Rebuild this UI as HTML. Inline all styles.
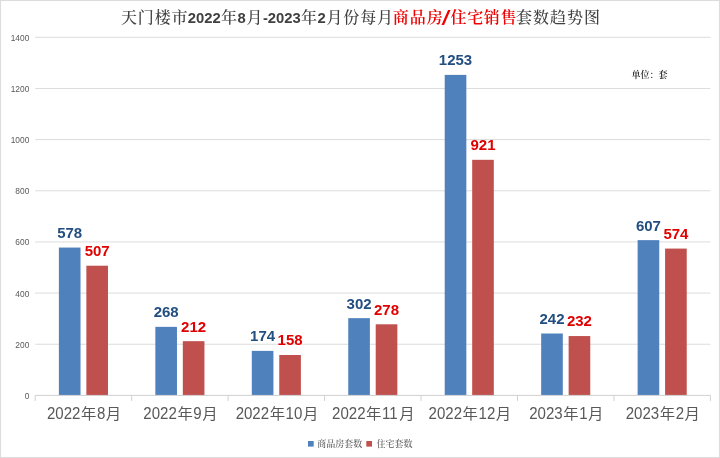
<!DOCTYPE html>
<html lang="zh"><head><meta charset="utf-8"><title>天门楼市商品房/住宅销售套数趋势图</title>
<style>
html,body{margin:0;padding:0;background:#fff;}
body{width:720px;height:458px;overflow:hidden;}
svg{display:block;}
.c{font-family:"Liberation Serif","Noto Serif CJK SC",serif;font-size:16px;fill:#404040;font-weight:500;}
.d{font-family:"Liberation Sans",sans-serif;font-weight:bold;font-size:14.8px;fill:#404040;}
.r{font-family:"Liberation Serif","Noto Serif CJK SC",serif;font-size:16px;fill:#f00000;font-weight:600;}
.sl{font-family:"Liberation Sans",sans-serif;font-size:21px;fill:#f00000;font-weight:normal;}
.yl{font-family:"Liberation Sans",sans-serif;font-size:8.9px;fill:#595959;text-anchor:end;}
.xd{font-family:"Liberation Sans",sans-serif;font-size:16.5px;fill:#595959;}
.xc{font-family:"Liberation Sans","Noto Sans CJK SC",sans-serif;font-size:14.8px;fill:#595959;}
.la{font-family:"Liberation Sans",sans-serif;font-weight:bold;font-size:15px;fill:#234e80;text-anchor:middle;}
.lb{font-family:"Liberation Sans",sans-serif;font-weight:bold;font-size:15px;fill:#e00000;text-anchor:middle;}
.lg{font-family:"Liberation Serif","Noto Serif CJK SC",serif;font-size:9px;fill:#595959;font-weight:500;}
.u{font-family:"Liberation Serif","Noto Serif CJK SC",serif;font-size:9px;fill:#1a1a1a;font-weight:600;}
</style></head><body>
<svg width="720" height="458" viewBox="0 0 720 458">
<rect x="0" y="0" width="720" height="458" fill="#ffffff"/>
<rect x="0.5" y="0.5" width="719" height="457" fill="none" stroke="#dcdcdc" stroke-width="1.1"/>
<line x1="35.2" x2="710.4" y1="344.24" y2="344.24" stroke="#dcdcdc" stroke-width="1"/>
<line x1="35.2" x2="710.4" y1="293.09" y2="293.09" stroke="#dcdcdc" stroke-width="1"/>
<line x1="35.2" x2="710.4" y1="241.93" y2="241.93" stroke="#dcdcdc" stroke-width="1"/>
<line x1="35.2" x2="710.4" y1="190.77" y2="190.77" stroke="#dcdcdc" stroke-width="1"/>
<line x1="35.2" x2="710.4" y1="139.61" y2="139.61" stroke="#dcdcdc" stroke-width="1"/>
<line x1="35.2" x2="710.4" y1="88.46" y2="88.46" stroke="#dcdcdc" stroke-width="1"/>
<line x1="35.2" x2="710.4" y1="37.30" y2="37.30" stroke="#dcdcdc" stroke-width="1"/>
<rect x="58.88" y="247.56" width="21.63" height="147.84" fill="#4f81bd"/>
<rect x="86.35" y="265.72" width="21.63" height="129.68" fill="#c0504d"/>
<rect x="155.34" y="326.85" width="21.63" height="68.55" fill="#4f81bd"/>
<rect x="182.81" y="341.17" width="21.63" height="54.23" fill="#c0504d"/>
<rect x="251.80" y="350.89" width="21.63" height="44.51" fill="#4f81bd"/>
<rect x="279.26" y="354.99" width="21.63" height="40.41" fill="#c0504d"/>
<rect x="348.25" y="318.15" width="21.63" height="77.25" fill="#4f81bd"/>
<rect x="375.72" y="324.29" width="21.63" height="71.11" fill="#c0504d"/>
<rect x="444.71" y="74.90" width="21.63" height="320.50" fill="#4f81bd"/>
<rect x="472.18" y="159.82" width="21.63" height="235.58" fill="#c0504d"/>
<rect x="541.17" y="333.50" width="21.63" height="61.90" fill="#4f81bd"/>
<rect x="568.63" y="336.06" width="21.63" height="59.34" fill="#c0504d"/>
<rect x="637.62" y="240.14" width="21.63" height="155.26" fill="#4f81bd"/>
<rect x="665.09" y="248.58" width="21.63" height="146.82" fill="#c0504d"/>
<line x1="35.2" x2="710.4" y1="395.40" y2="395.40" stroke="#d0d0d0" stroke-width="1"/>
<line x1="35.20" x2="35.20" y1="395.40" y2="400.90" stroke="#d0d0d0" stroke-width="1"/>
<line x1="131.66" x2="131.66" y1="395.40" y2="400.90" stroke="#d0d0d0" stroke-width="1"/>
<line x1="228.11" x2="228.11" y1="395.40" y2="400.90" stroke="#d0d0d0" stroke-width="1"/>
<line x1="324.57" x2="324.57" y1="395.40" y2="400.90" stroke="#d0d0d0" stroke-width="1"/>
<line x1="421.03" x2="421.03" y1="395.40" y2="400.90" stroke="#d0d0d0" stroke-width="1"/>
<line x1="517.49" x2="517.49" y1="395.40" y2="400.90" stroke="#d0d0d0" stroke-width="1"/>
<line x1="613.94" x2="613.94" y1="395.40" y2="400.90" stroke="#d0d0d0" stroke-width="1"/>
<line x1="710.40" x2="710.40" y1="395.40" y2="400.90" stroke="#d0d0d0" stroke-width="1"/>
<text class="yl" transform="translate(29.3,398.85) scale(0.94,1)">0</text>
<text class="yl" transform="translate(29.3,347.69) scale(0.94,1)">200</text>
<text class="yl" transform="translate(29.3,296.54) scale(0.94,1)">400</text>
<text class="yl" transform="translate(29.3,245.38) scale(0.94,1)">600</text>
<text class="yl" transform="translate(29.3,194.22) scale(0.94,1)">800</text>
<text class="yl" transform="translate(29.3,143.06) scale(0.94,1)">1000</text>
<text class="yl" transform="translate(29.3,91.91) scale(0.94,1)">1200</text>
<text class="yl" transform="translate(29.3,40.75) scale(0.94,1)">1400</text>
<g>
<text class="xd" transform="translate(46.90,418.8) scale(0.9120,1)">2022</text>
<text class="xc" transform="translate(80.94,418.8) scale(1.04,1)">年</text>
<text class="xd" transform="translate(96.88,418.8) scale(0.9120,1)">8</text>
<text class="xc" transform="translate(105.81,418.8) scale(1.04,1)">月</text>
</g>
<g>
<text class="xd" transform="translate(143.36,418.8) scale(0.9120,1)">2022</text>
<text class="xc" transform="translate(177.39,418.8) scale(1.04,1)">年</text>
<text class="xd" transform="translate(193.34,418.8) scale(0.9120,1)">9</text>
<text class="xc" transform="translate(202.26,418.8) scale(1.04,1)">月</text>
</g>
<g>
<text class="xd" transform="translate(235.63,418.8) scale(0.9120,1)">2022</text>
<text class="xc" transform="translate(269.67,418.8) scale(1.04,1)">年</text>
<text class="xd" transform="translate(285.61,418.8) scale(0.9120,1)">10</text>
<text class="xc" transform="translate(302.91,418.8) scale(1.04,1)">月</text>
</g>
<g>
<text class="xd" transform="translate(332.09,418.8) scale(0.9120,1)">2022</text>
<text class="xc" transform="translate(366.12,418.8) scale(1.04,1)">年</text>
<text class="xd" transform="translate(382.07,418.8) scale(0.9120,1)">11</text>
<text class="xc" transform="translate(399.36,418.8) scale(1.04,1)">月</text>
</g>
<g>
<text class="xd" transform="translate(428.55,418.8) scale(0.9120,1)">2022</text>
<text class="xc" transform="translate(462.58,418.8) scale(1.04,1)">年</text>
<text class="xd" transform="translate(478.53,418.8) scale(0.9120,1)">12</text>
<text class="xc" transform="translate(495.82,418.8) scale(1.04,1)">月</text>
</g>
<g>
<text class="xd" transform="translate(529.19,418.8) scale(0.9120,1)">2023</text>
<text class="xc" transform="translate(563.22,418.8) scale(1.04,1)">年</text>
<text class="xd" transform="translate(579.17,418.8) scale(0.9120,1)">1</text>
<text class="xc" transform="translate(588.09,418.8) scale(1.04,1)">月</text>
</g>
<g>
<text class="xd" transform="translate(625.65,418.8) scale(0.9120,1)">2023</text>
<text class="xc" transform="translate(659.68,418.8) scale(1.04,1)">年</text>
<text class="xd" transform="translate(675.63,418.8) scale(0.9120,1)">2</text>
<text class="xc" transform="translate(684.55,418.8) scale(1.04,1)">月</text>
</g>
<text class="la" x="69.70" y="237.96">578</text>
<text class="lb" x="97.16" y="256.12">507</text>
<text class="la" x="166.15" y="317.25">268</text>
<text class="lb" x="193.62" y="331.57">212</text>
<text class="la" x="262.61" y="341.29">174</text>
<text class="lb" x="290.08" y="345.39">158</text>
<text class="la" x="359.07" y="308.55">302</text>
<text class="lb" x="386.53" y="314.69">278</text>
<text class="la" x="455.52" y="65.30">1253</text>
<text class="lb" x="482.99" y="150.22">921</text>
<text class="la" x="551.98" y="323.90">242</text>
<text class="lb" x="579.45" y="326.46">232</text>
<text class="la" x="648.44" y="230.54">607</text>
<text class="lb" x="675.90" y="238.98">574</text>
<g id="title">
<text class="c" x="121.0" y="22.9" style="letter-spacing:0.85px">天门楼市</text>
<text class="d" x="187.8" y="22.9">2022</text>
<text class="c" x="220.9" y="22.9">年</text>
<text class="d" x="237.4" y="22.9">8</text>
<text class="c" x="246.5" y="22.9">月</text>
<text class="d" x="262.9" y="22.9">-</text>
<text class="d" x="267.8" y="22.9">2023</text>
<text class="c" x="300.9" y="22.9">年</text>
<text class="d" x="317.4" y="22.9">2</text>
<text class="c" x="326.5" y="22.9" style="letter-spacing:0.87px">月份每月</text>
<text class="r" x="392.75" y="22.9" style="letter-spacing:1.0px">商品房</text>
<text class="r" x="450.6" y="22.9" style="letter-spacing:0.6px">住宅销售</text>
<text class="c" x="515.9" y="22.9" style="letter-spacing:1.0px">套数趋势图</text>
<text class="sl" transform="translate(441.6,24.9) scale(1.55,1)" x="0" y="0">/</text>
</g>
<text class="u" x="631.5" y="78">单位：套</text>
<rect x="308" y="441" width="5.7" height="5.6" fill="#4f81bd"/>
<text class="lg" x="317.2" y="446.6">商品房套数</text>
<rect x="366.3" y="441" width="5.7" height="5.6" fill="#c0504d"/>
<text class="lg" x="376.4" y="446.6">住宅套数</text>
</svg></body></html>
